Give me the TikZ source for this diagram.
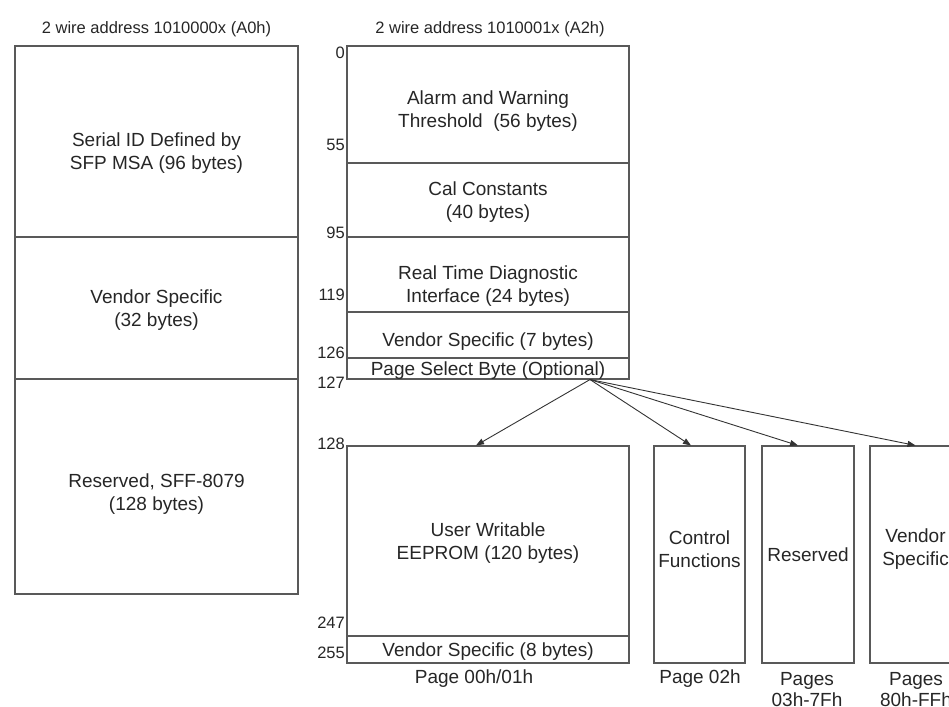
\documentclass[tikz,border=0pt]{standalone}
\usepackage{fontspec}
\setmainfont{Liberation Sans}
\usetikzlibrary{arrows.meta}

\begin{document}
\begin{tikzpicture}[x=1pt, y=-1pt,
    field/.style={draw=black!65, line width=1.1pt, inner sep=0pt},
    fieldtext/.style={inner sep=0pt, align=center, text=black!85, font=\fontsize{19}{23}\selectfont},
    addr/.style={anchor=east, inner sep=0pt, text=black!85, font=\fontsize{16.5}{19}\selectfont},
    addrtitle/.style={inner sep=0pt, text=black!85, font=\fontsize{16.5}{19}\selectfont},
    pagecap/.style={inner sep=0pt, align=center, text=black!85, font=\fontsize{19}{21}\selectfont},
    pageptr/.style={draw=black!80, line width=0.9pt, -{Triangle[length=8pt,width=6pt]}}]

  \useasboundingbox (0,0) rectangle (949,706);
  \clip (0,0) rectangle (949,706);

  \node[addrtitle] (a0title) at (156.5,29) {2 wire address 1010000x (A0h)};
  \node[field, minimum width=283pt, minimum height=191pt,
    label={[fieldtext, yshift=-12pt]center:{Serial ID Defined by\\SFP MSA (96 bytes)}}] (serialid) at (156.5,141.5) {};
  \node[field, minimum width=283pt, minimum height=142pt,
    label={[fieldtext, yshift=-2.5pt]center:{Vendor Specific\\(32 bytes)}}] (vendor32) at (156.5,308) {};
  \node[field, minimum width=283pt, minimum height=215pt,
    label={[fieldtext, yshift=-8pt]center:{Reserved, SFF-8079\\(128 bytes)}}] (sff) at (156.5,486.5) {};

  \node[addrtitle] (a2title) at (490,29) {2 wire address 1010001x (A2h)};
  \node[field, minimum width=282pt, minimum height=117pt,
    label={[fieldtext, yshift=-6.5pt]center:{Alarm and Warning\\Threshold~ (56 bytes)}}] (alarm) at (488,104.5) {};
  \node[field, minimum width=282pt, minimum height=74pt,
    label={[fieldtext, yshift=-2pt]center:{Cal Constants\\(40 bytes)}}] (calconst) at (488,200) {};
  \node[field, minimum width=282pt, minimum height=75pt,
    label={[fieldtext, yshift=-12pt]center:{Real Time Diagnostic\\Interface (24 bytes)}}] (realtime) at (488,274.5) {};
  \node[field, minimum width=282pt, minimum height=46pt,
    label={[fieldtext, yshift=-7pt]center:{Vendor Specific (7 bytes)}}] (vendor7) at (488,335) {};
  \node[field, minimum width=282pt, minimum height=21pt,
    label={[fieldtext, yshift=-2pt]center:{Page Select Byte (Optional)}}] (pagesel) at (488,368.5) {};

  \node[field, minimum width=282pt, minimum height=190pt,
    label={[fieldtext, yshift=-2pt]center:{User Writable\\EEPROM (120 bytes)}}] (userwr) at (488,541) {};
  \node[field, minimum width=282pt, minimum height=27pt,
    label={[fieldtext, yshift=-2pt]center:{Vendor Specific (8 bytes)}}] (vendor8) at (488,649.5) {};
  \node[field, minimum width=91pt, minimum height=217pt,
    label={[fieldtext, yshift=5pt]center:{Control\\Functions}}] (ctrl) at (699.5,554.5) {};
  \node[field, minimum width=92pt, minimum height=217pt,
    label={[fieldtext]center:{Reserved}}] (rsvd) at (808,554.5) {};
  \node[field, minimum width=91pt, minimum height=217pt,
    label={[fieldtext, yshift=5pt]center:{Vendor\\Specific}}] (vendsp) at (915.5,554.5) {};

  \foreach \off/\y in {0/53, 55/145, 95/233, 119/295, 126/353, 127/383, 128/444, 247/623, 255/653}
    \node[addr] (off\off) at (345,\y) {\off};

  \node[pagecap] (cap01) at (474,679) {Page 00h/01h};
  \node[pagecap] (cap02) at (700,679) {Page 02h};
  \node[pagecap, anchor=north] (cap03) at (807,672) {Pages\\03h-7Fh};
  \node[pagecap, anchor=north] (cap80) at (916,672) {Pages\\80h-FFh};

  \coordinate (selout) at ([xshift=102pt]pagesel.south);
  \draw[pageptr] (selout) -- ([xshift=-12pt]userwr.north);
  \draw[pageptr] (selout) -- ([xshift=-8.5pt]ctrl.north);
  \draw[pageptr] (selout) -- ([xshift=-10pt]rsvd.north);
  \draw[pageptr] (selout) -- (vendsp.north);

\end{tikzpicture}
\end{document}
